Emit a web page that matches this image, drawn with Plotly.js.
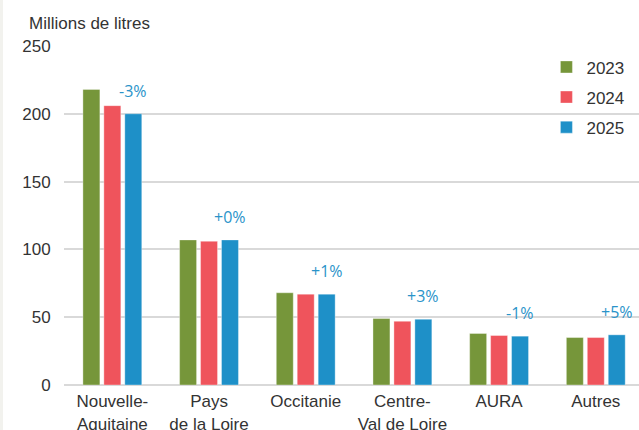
<!DOCTYPE html>
<html>
<head>
<meta charset="utf-8">
<script src="https://cdn.plot.ly/plotly-3.0.1.min.js"></script>
<style>html,body{margin:0;padding:0;background:#fff;}#chart{width:639px;height:430px;}</style>
</head>
<body>
<div id="chart"></div>
<script>
const categories = ["Nouvelle-<br>Aquitaine", "Pays<br>de la Loire", "Occitanie", "Centre-<br>Val de Loire", "AURA", "Autres"];
const values2023 = [218, 107, 68, 49, 38, 35];
const values2024 = [206, 106, 67, 47, 36.5, 35];
const values2025 = [200, 107, 67, 48.5, 36, 37];
const changeLabels = ["-3%", "+0%", "+1%", "+3%", "-1%", "+5%"];
const yTicks = [0, 50, 100, 150, 200, 250];

const FONT = "'Liberation Sans Narrow', 'Liberation Sans', Arial, sans-serif";
const colors = {"2023": "#76963a", "2024": "#ef545c", "2025": "#1e90c8"};

function bar(name, y) {
  return {
    type: "bar", name: name, x: categories, y: y,
    legendgroup: name,
    marker: {color: colors[name], line: {color: "rgba(255,255,255,0.35)", width: 1}},
    hoverinfo: "x+y"
  };
}

const data = [bar("2023", values2023), bar("2024", values2024), bar("2025", values2025)];

const annotations = categories.map((c, i) => ({
  x: c, y: values2025[i], xref: "x", yref: "y",
  text: changeLabels[i], showarrow: false,
  xanchor: "center", yanchor: "bottom", xshift: 21, yshift: 10,
  font: {family: "'Open Sans', 'Noto Sans', sans-serif", size: 16, color: "#2a93c9"}
}));

const layout = {
  width: 639, height: 430,
  margin: {l: 64, r: 0, t: 46, b: 45},
  paper_bgcolor: "#ffffff", plot_bgcolor: "#ffffff",
  font: {family: FONT, size: 17, color: "#333333"},
  title: {text: "Millions de litres", x: 29/639, xanchor: "left", xref: "container",
          y: 1 - 23/430, yanchor: "middle", yref: "container",
          font: {family: FONT, size: 17, color: "#333333"}},
  barmode: "group", bargap: 0.35, bargroupgap: 0.19,
  xaxis: {type: "category", range: [-0.5, 5.447], showgrid: false, zeroline: false,
          showline: false, ticks: "outside", ticklen: 1, tickcolor: "rgba(0,0,0,0)",
          tickfont: {family: FONT, size: 17, color: "#333333"}, fixedrange: true},
  yaxis: {range: [0, 250], tickvals: yTicks, showgrid: true, gridcolor: "#d9d9d9", gridwidth: 2,
          zeroline: true, zerolinecolor: "#d9d9d9", zerolinewidth: 2, showline: false,
          ticks: "outside", ticklen: 9, tickcolor: "rgba(0,0,0,0)",
          tickfont: {family: FONT, size: 17, color: "#333333"}, fixedrange: true},
  legend: {x: 0.839, y: 0.99, xanchor: "left", yanchor: "top", bgcolor: "rgba(0,0,0,0)",
           font: {family: FONT, size: 17, color: "#333333"}, tracegroupgap: 5},
  showlegend: true,
  annotations: annotations,
  shapes: [{type: "rect", xref: "paper", yref: "paper", x0: -64/575, x1: -61/575,
            y0: -45/339, y1: 1 + 46/339, fillcolor: "#f2f2ee", line: {width: 0}, layer: "below"}]
};

Plotly.newPlot("chart", data, layout, {displayModeBar: false, staticPlot: true});
</script>
</body>
</html>
